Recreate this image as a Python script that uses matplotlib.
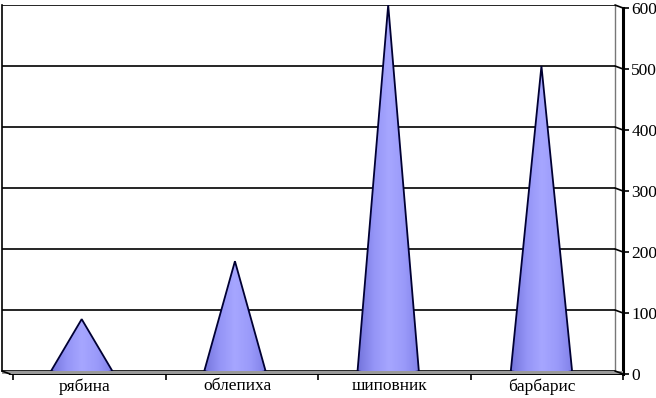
import numpy as np
import matplotlib
matplotlib.use("Agg")
import matplotlib.pyplot as plt
from matplotlib.colors import LinearSegmentedColormap
from matplotlib.patches import Polygon, Rectangle, ConnectionPatch

categories = ["рябина", "облепиха", "шиповник", "барбарис"]
values = [85, 180, 600, 500]
yticks = [0, 100, 200, 300, 400, 500, 600]

plt.rcParams['font.family'] = ['Liberation Serif', 'DejaVu Serif']
plt.rcParams['font.size'] = 12.5

W, H = 656, 398
fig = plt.figure(figsize=(W / 100, H / 100), dpi=100)

# back wall
L, R, T, B = 2, 615, 5, 371
ax = fig.add_axes([L / W, (H - B) / H, (R - L) / W, (B - T) / H])
ax.set_xlim(-0.52, 3.48)
ax.set_ylim(0, 600)
for v in yticks:
    ax.axhline(v, color='black', lw=1.2, zorder=1)
ax.set_xticks([])
ax.set_yticks([])
for s in ['top', 'bottom']:
    ax.spines[s].set_visible(False)
ax.spines['left'].set_linewidth(1.2)
ax.spines['right'].set_color('#777777')
ax.spines['right'].set_linewidth(1.0)
ax.patch.set_alpha(0)

# front (floor edge + value axis)
dx, dy = 8, 3
ax2 = fig.add_axes([(L + dx) / W, (H - B - dy) / H, (R - L) / W, (B - T) / H])
ax2.set_xlim(-0.52, 3.48)
ax2.set_ylim(0, 600)
ax2.patch.set_alpha(0)
for s in ['top', 'left']:
    ax2.spines[s].set_visible(False)
ax2.spines['right'].set_linewidth(2.2)
ax2.spines['bottom'].set_linewidth(1.4)
ax2.yaxis.tick_right()
ax2.set_yticks(yticks)
ax2.tick_params(axis='y', direction='out', length=4, width=1.2, pad=2)
ax2.set_xticks(np.arange(len(categories)) - 0.03)
ax2.set_xticklabels(categories)
ax2.set_xticks(np.arange(-0.5, len(categories), 1.0), minor=True)
ax2.tick_params(axis='x', which='major', length=0, pad=3)
ax2.tick_params(axis='x', which='minor', direction='out', length=4, width=1.2)

# floor band
fig.patches.append(Rectangle((L / W, (H - B - dy) / H), (R - L + dx) / W, dy / H,
                             transform=fig.transFigure, facecolor='#9a9a9a',
                             edgecolor='none', zorder=0))

# short connectors from wall to axis
for v in yticks:
    con = ConnectionPatch(xyA=(1, v), coordsA=ax.get_yaxis_transform(),
                          xyB=(1, v), coordsB=ax2.get_yaxis_transform(),
                          color='black', lw=1.2)
    fig.add_artist(con)
con = ConnectionPatch(xyA=(0, 0), coordsA=ax.transAxes,
                      xyB=(0, 0), coordsB=ax2.transAxes, color='black', lw=1.2)
fig.add_artist(con)

# cones
cmap = LinearSegmentedColormap.from_list(
    'cone', ['#7474dc', '#9494f6', '#a6a6ff', '#9a9afa', '#8080e8'])
grad = np.linspace(0, 1, 256).reshape(1, -1)
hw = 0.2
for i, v in enumerate(values):
    t = np.linspace(np.pi, 2 * np.pi, 30)
    base = np.column_stack([i + hw * np.cos(t)[::-1] * -1, 3 * np.sin(t)[::-1]])
    pts = np.vstack([[i, v], [i + hw, 0], base[::-1][1:-1], [i - hw, 0]])
    poly = Polygon(pts, closed=True, facecolor='none', edgecolor='#000033',
                   lw=1.3, zorder=4)
    ax.add_patch(poly)
    im = ax.imshow(grad, cmap=cmap, aspect='auto',
                   extent=[i - hw, i + hw, -5, v], zorder=3)
    im.set_clip_path(poly)

ax.set_xlim(-0.52, 3.48)
ax.set_ylim(0, 600)

fig.savefig("out.png", dpi=100)
